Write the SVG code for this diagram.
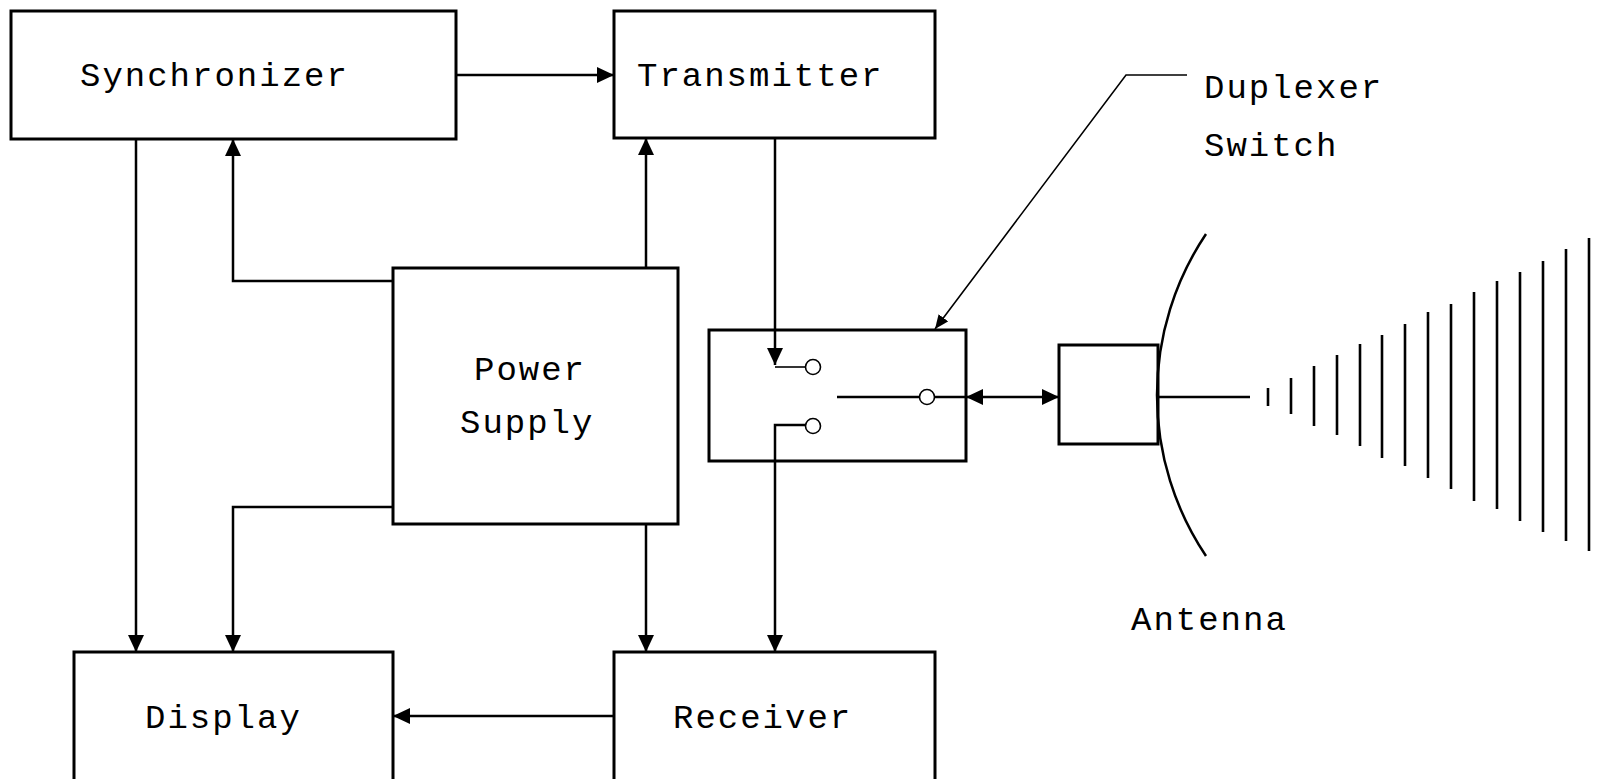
<svg xmlns="http://www.w3.org/2000/svg" width="1605" height="779" viewBox="0 0 1605 779">
<style>
.box{fill:none;stroke:#000;stroke-width:3}
.c{fill:none;stroke:#000;stroke-width:2.5}
.thin{fill:none;stroke:#000;stroke-width:1.6}
.t{font-family:"Liberation Mono","DejaVu Sans Mono",monospace;font-size:34px;letter-spacing:2px;fill:#000}
.wave{stroke:#000;stroke-width:2.6}
</style>
<defs>
<marker id="ah" viewBox="0 0 17 16" refX="17" refY="8" markerWidth="17" markerHeight="16" markerUnits="userSpaceOnUse" orient="auto-start-reverse">
<path d="M0,0 L17,8 L0,16 z" fill="#000"/>
</marker>
<marker id="ahs" viewBox="0 0 14 12" refX="14" refY="6" markerWidth="14" markerHeight="12" markerUnits="userSpaceOnUse" orient="auto">
<path d="M0,0 L14,6 L0,12 z" fill="#000"/>
</marker>
</defs>
<rect width="1605" height="779" fill="#fff"/>

<g id="synchronizer">
<rect class="box" x="11" y="11" width="445" height="128"/>
<text class="t" x="80" y="86">Synchronizer</text>
</g>
<g id="transmitter">
<rect class="box" x="614" y="11" width="321" height="127"/>
<text class="t" x="637" y="86">Transmitter</text>
</g>
<g id="power-supply">
<rect class="box" x="393" y="268" width="285" height="256"/>
<text class="t" x="474" y="380">Power</text>
<text class="t" x="460" y="433">Supply</text>
</g>
<g id="display">
<rect class="box" x="74" y="652" width="319" height="160"/>
<text class="t" x="145" y="728">Display</text>
</g>
<g id="receiver">
<rect class="box" x="614" y="652" width="321" height="160"/>
<text class="t" x="673" y="728">Receiver</text>
</g>
<g id="duplexer">
<rect class="box" x="709" y="330" width="257" height="131"/>
<circle class="thin" cx="813" cy="367" r="7.5"/>
<circle class="thin" cx="813" cy="426" r="7.5"/>
<circle class="thin" cx="927" cy="397" r="7.5"/>
<line class="thin" x1="775" y1="367" x2="805.5" y2="367"/>
<line class="c" x1="837" y1="397" x2="919.5" y2="397"/>
<line class="c" x1="934.5" y1="397" x2="966" y2="397"/>
</g>
<g id="duplexer-label">
<text class="t" x="1204" y="98">Duplexer</text>
<text class="t" x="1204" y="156">Switch</text>
</g>
<g id="antenna">
<rect class="box" x="1059" y="345" width="99" height="99"/>
<path class="c" d="M1206,234 A289,289 0 0,0 1206,556"/>
<line class="c" x1="1158" y1="397" x2="1250" y2="397"/>
<g class="wave">
<line x1="1268" y1="388" x2="1268" y2="406"/>
<line x1="1291" y1="378" x2="1291" y2="414"/>
<line x1="1314" y1="366" x2="1314" y2="426"/>
<line x1="1337" y1="355" x2="1337" y2="435"/>
<line x1="1360" y1="344" x2="1360" y2="446"/>
<line x1="1382" y1="335" x2="1382" y2="458"/>
<line x1="1405" y1="324" x2="1405" y2="466"/>
<line x1="1428" y1="312" x2="1428" y2="478"/>
<line x1="1451" y1="304" x2="1451" y2="489"/>
<line x1="1474" y1="292" x2="1474" y2="501"/>
<line x1="1497" y1="281" x2="1497" y2="509"/>
<line x1="1520" y1="272" x2="1520" y2="521"/>
<line x1="1543" y1="261" x2="1543" y2="532"/>
<line x1="1566" y1="249" x2="1566" y2="541"/>
<line x1="1589" y1="238" x2="1589" y2="551"/>
</g>
<text class="t" x="1131" y="630">Antenna</text>
</g>

<g id="connectors">
<path class="c" d="M456,75 H614" marker-end="url(#ah)"/>
<path class="c" d="M136,139 V652" marker-end="url(#ah)"/>
<path class="c" d="M393,281 H233 V139" marker-end="url(#ah)"/>
<path class="c" d="M393,507 H233 V652" marker-end="url(#ah)"/>
<path class="c" d="M646,268 V138" marker-end="url(#ah)"/>
<path class="c" d="M646,524 V652" marker-end="url(#ah)"/>
<path class="c" d="M614,716 H393" marker-end="url(#ah)"/>
<path class="c" d="M775,138 V365" marker-end="url(#ah)"/>
<path class="c" d="M805.5,425 H775 V652" marker-end="url(#ah)"/>
<path class="c" d="M966,397 H1059" marker-start="url(#ah)" marker-end="url(#ah)"/>
<path class="thin" d="M1187,75 H1126 L935,329" marker-end="url(#ahs)"/>
</g>
</svg>
